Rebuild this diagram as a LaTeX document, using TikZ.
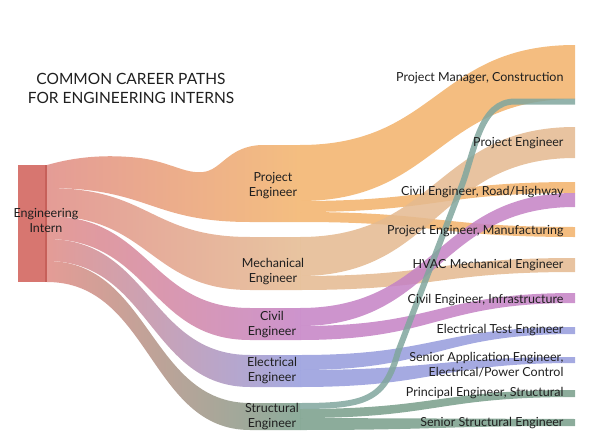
\documentclass[tikz,border=0pt]{standalone}
\usepackage{fontspec}
\setmainfont{Lato}
\definecolor{internred}{RGB}{215,118,112}
\definecolor{internline}{RGB}{198,96,90}
\definecolor{srcband}{RGB}{228,156,150}
\definecolor{projorange}{RGB}{244,190,128}
\definecolor{mechtan}{RGB}{232,196,160}
\definecolor{civilpurple}{RGB}{205,148,205}
\definecolor{elecblue}{RGB}{165,170,225}
\definecolor{structgreen}{RGB}{140,172,155}
\definecolor{projB}{RGB}{242,178,106}
\definecolor{mechB}{RGB}{228,185,143}
\definecolor{civilB}{RGB}{196,129,196}
\definecolor{elecB}{RGB}{149,155,220}
\definecolor{structB}{RGB}{120,157,137}
\definecolor{structsteep}{RGB}{128,166,158}
\tikzset{
    midlabel/.style={align=center,text=black!88,font=\fontsize{12.5}{15}\selectfont},
    endlabel/.style={anchor=east,align=right,text=black!88,font=\fontsize{12.5}{15}\selectfont},
}
\begin{document}
\begin{tikzpicture}[x=1pt,y=-1pt]
        \useasboundingbox (0,0) rectangle (595,447);
        \def\xs{47}\def\xn{300}\def\xe{575}\def\xm{437}
        \node[fill=internred,minimum width=29,minimum height=117,inner sep=0] (intern) at (32.5,223.5) {};
        \fill[internline] ([xshift=-2]intern.north east) rectangle (intern.south east);
        \shade[left color=srcband,right color=projorange] (\xs,165) .. controls (75,157) and (105,154) .. (140,158) .. controls (170,162) and (185,174) .. (203,172) .. controls (222,170) and (228,146) .. (262,145) -- (\xn,145) -- (\xn,222) -- (250,222) .. controls (150,222) and (150,188) .. (\xs,188) -- cycle;
        \foreach\a/\b/\c/\d/\col in {188/216/237/290/mechtan,216/239/308/340/civilpurple,239/261/355/387/elecblue,261/282/403/430/structgreen}{
            \shade[left color=srcband,right color=\col] (\xs,\a) .. controls (150,\a) and (150,\c) .. (250,\c) -- (\xn,\c) -- (\xn,\d) -- (250,\d) .. controls (150,\d) and (150,\b) .. (\xs,\b) -- cycle;
        }
        \foreach\a/\b/\c/\d/\col in {145/201/45/99/projB,201/212/182/193/projB,212/222/227/237/projB,237/276/127/158/mechB,276/290/258/272/mechB,308/326/193/207/civilB,326/340/293/303/civilB,355/370/327/334/elecB,370/387/357/363/elecB,409/418/390/397/structB,418/430/419/426/structB}{
            \fill[\col,fill opacity=0.85] (\xn,\a) .. controls (\xm,\a) and (\xm,\c) .. (\xe,\c) -- (\xe,\d) .. controls (\xm,\d) and (\xm,\b) .. (\xn,\b) -- cycle;
        }
        \draw[structsteep,line width=6,opacity=0.85] (\xn,406) .. controls (365,406) and (385,400) .. (398,352) -- (462,185) .. controls (475,150) and (480,101.5) .. (515,101.5) -- (\xe,101.5);
        \node[align=center,text=black!88,font=\fontsize{15.5}{19}\selectfont] (title) at (131,88) {COMMON CAREER PATHS\\FOR ENGINEERING INTERNS};
        \node[midlabel] (internlbl) at (46,220) {Engineering\\Intern};
        \node[midlabel] (pe) at (273,186) {Project\\Engineer};
        \node[midlabel] (me) at (273,272) {Mechanical\\Engineer};
        \node[midlabel] (ce) at (272,325) {Civil\\Engineer};
        \node[midlabel] (ee) at (272,371) {Electrical\\Engineer};
        \node[midlabel] (se) at (272,417) {Structural\\Engineer};
        \node[endlabel] (pmc) at (567,78) {Project Manager, Construction};
        \node[endlabel] (pet) at (567,143) {Project Engineer};
        \node[endlabel] (crh) at (567,192) {Civil Engineer, Road/Highway};
        \node[endlabel] (pem) at (567,231) {Project Engineer, Manufacturing};
        \node[endlabel] (hvac) at (567,265) {HVAC Mechanical Engineer};
        \node[endlabel] (cin) at (567,300) {Civil Engineer, Infrastructure};
        \node[endlabel] (ete) at (567,330) {Electrical Test Engineer};
        \node[endlabel] (sae) at (567,364.5) {Senior Application Engineer,\\Electrical/Power Control};
        \node[endlabel] (pes) at (567,393) {Principal Engineer, Structural};
        \node[endlabel] (sse) at (567,423) {Senior Structural Engineer};
    \end{tikzpicture}
\end{document}
